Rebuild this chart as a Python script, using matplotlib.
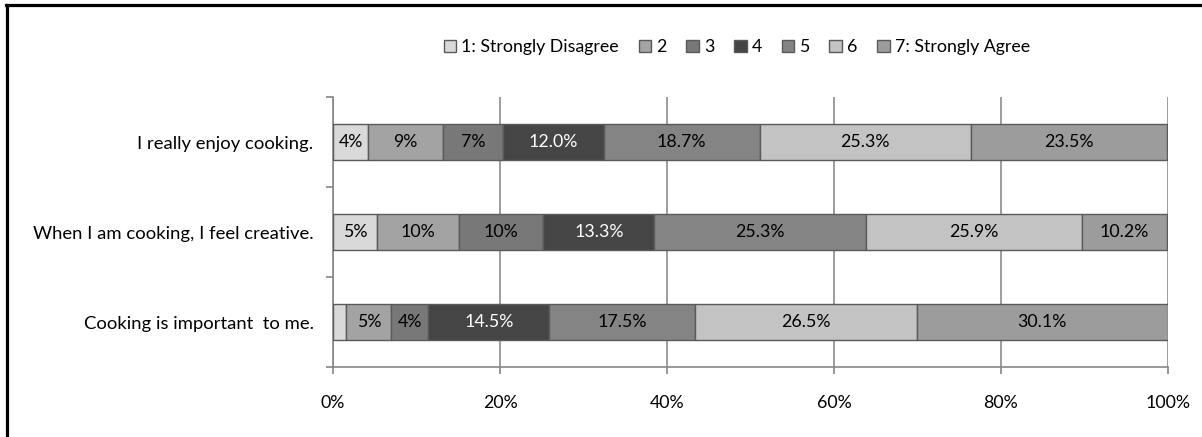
import numpy as np
import matplotlib.pyplot as plt
from matplotlib.lines import Line2D

# Likert responses (percent of respondents), one list per statement
statements = ["I really enjoy cooking.",
              "When I am cooking, I feel creative.",
              "Cooking is important  to me."]
levels = ["1: Strongly Disagree", "2", "3", "4", "5", "6", "7: Strongly Agree"]

enjoy = [4.2, 9.0, 7.2, 12.0, 18.7, 25.3, 23.5]
creative = [5.3, 9.8, 10.1, 13.3, 25.3, 25.9, 10.2]
important = [1.6, 5.4, 4.4, 14.5, 17.5, 26.5, 30.1]

colores = ["#d9d9d9", "#a3a3a3", "#787878", "#454545", "#848484", "#c3c3c3", "#9c9c9c"]
decimales = [0, 0, 0, 1, 1, 1, 1]

plt.rcParams['font.family'] = ['Lato', 'DejaVu Sans']
fs = 12.8

datos = np.array([enjoy, creative, important])

fig = plt.figure(figsize=(12.02, 4.37), dpi=100)
ax = fig.add_axes([333 / 1202, 1 - 367 / 437, 835 / 1202, 270 / 437])

y = np.arange(len(statements))
izq = np.zeros(len(statements))
for j in range(len(levels)):
    vals = datos[:, j]
    ax.barh(y, vals, left=izq, height=0.4, color=colores[j],
            edgecolor="#5a5a5a", linewidth=1.0, label=levels[j], zorder=3)
    for i in range(len(statements)):
        if vals[i] >= 3:
            txt = f"{vals[i]:.{decimales[j]}f}%"
            c = "white" if j == 3 else "black"
            ax.text(izq[i] + vals[i] / 2, y[i], txt, ha="center", va="center",
                    fontsize=fs, color=c, zorder=4)
    izq += vals

ax.set_xlim(0, 100)
ax.set_ylim(2.5, -0.5)
ax.set_xticks(np.arange(0, 101, 20))
ax.set_xticklabels([f"{v}%" for v in range(0, 101, 20)])
ax.set_yticks(y)
ax.set_yticklabels(statements)
ax.set_yticks([-0.5, 0.5, 1.5, 2.5], minor=True)

ax.tick_params(axis="y", which="major", length=0, pad=14, labelsize=13.3)
ax.tick_params(axis="y", which="minor", length=5, color="#868686", width=1.2)
ax.tick_params(axis="x", length=5, color="#868686", width=1.2, pad=15, labelsize=fs)

ax.grid(axis="x", color="#8c8c8c", linewidth=1.2, zorder=0)
for s in ["top", "right"]:
    ax.spines[s].set_visible(False)
for s in ["left", "bottom"]:
    ax.spines[s].set_color("#868686")
    ax.spines[s].set_linewidth(1.2)

leg = fig.legend(loc="center", bbox_to_anchor=(0.613, 1 - 47 / 437), ncol=7,
                 frameon=False, fontsize=fs, handlelength=0.7, handleheight=0.7,
                 handletextpad=0.3, columnspacing=1.1)

# Marco exterior del gráfico
fig.add_artist(Line2D([7 / 1202, 7 / 1202], [0, 1 - 5 / 437], color="black",
                      linewidth=2.3, transform=fig.transFigure))
fig.add_artist(Line2D([6 / 1202, 1], [1 - 5 / 437, 1 - 5 / 437], color="black",
                      linewidth=2.3, transform=fig.transFigure))

fig.savefig("out.png", dpi=100)
